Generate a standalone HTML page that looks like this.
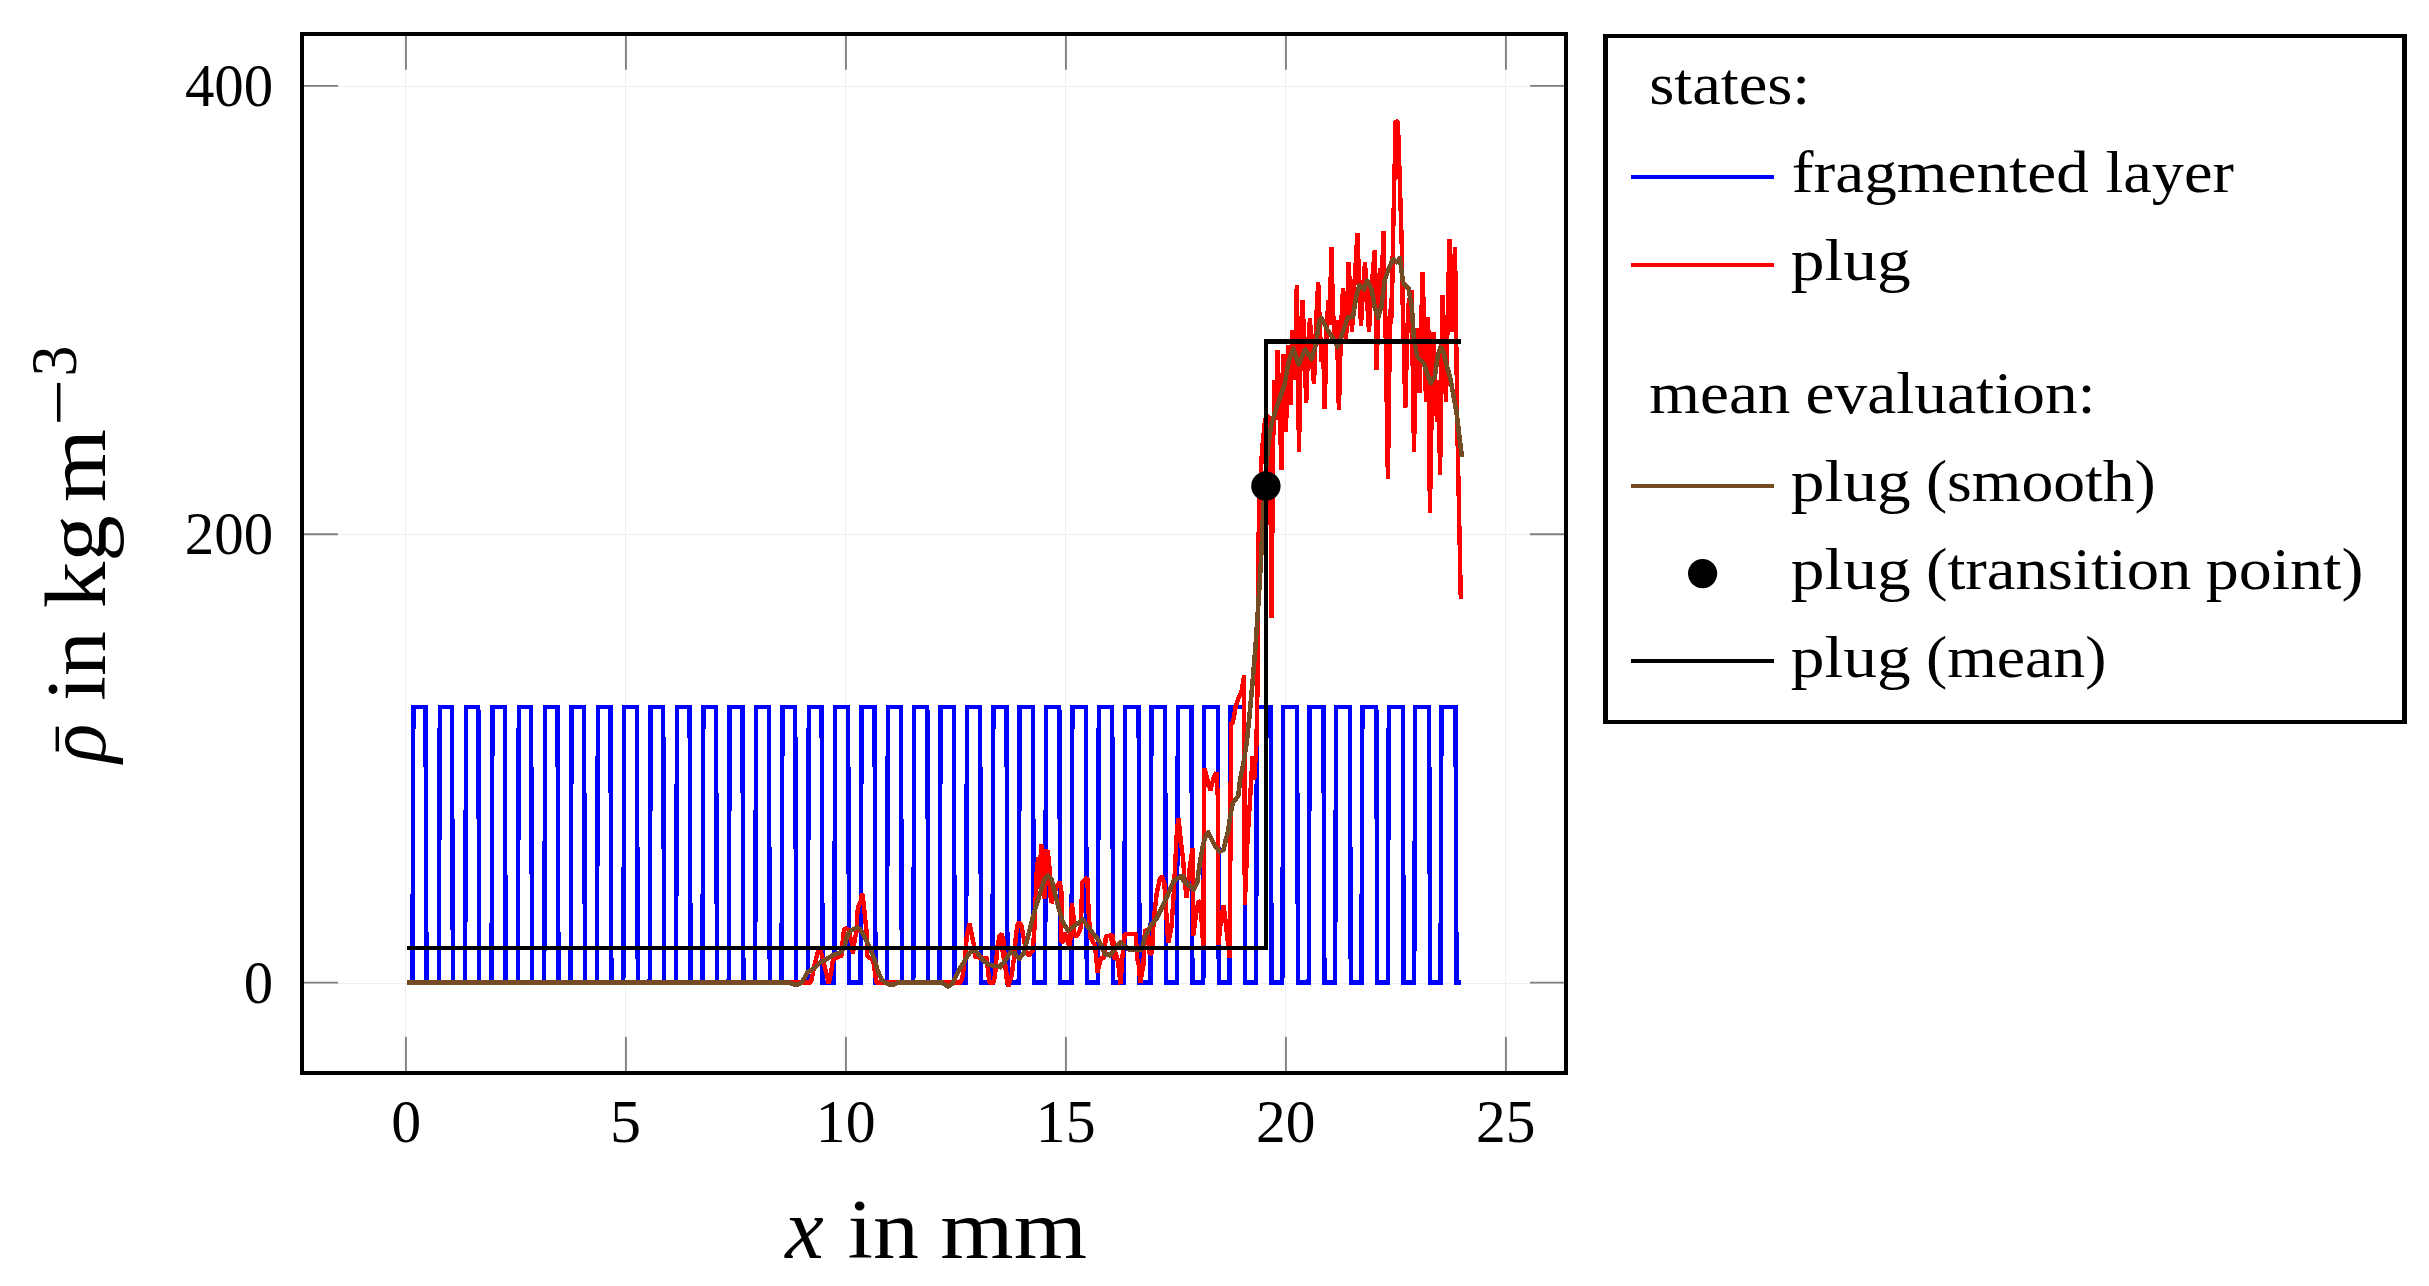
<!DOCTYPE html>
<html lang="en"><head><meta charset="utf-8"><title>plug density</title>
<style>html,body{margin:0;padding:0;background:#fff}svg{display:block}</style></head>
<body>
<svg width="2429" height="1286" viewBox="0 0 2429 1286" font-family="'Liberation Serif', serif">
<rect x="0" y="0" width="2429" height="1286" fill="#fff"/>
<g stroke="#eeeeee" stroke-width="1.1" shape-rendering="crispEdges">
<line x1="405.5" y1="36" x2="405.5" y2="1071"/>
<line x1="625.5" y1="36" x2="625.5" y2="1071"/>
<line x1="845.5" y1="36" x2="845.5" y2="1071"/>
<line x1="1065.5" y1="36" x2="1065.5" y2="1071"/>
<line x1="1285.5" y1="36" x2="1285.5" y2="1071"/>
<line x1="1505.5" y1="36" x2="1505.5" y2="1071"/>
<line x1="304" y1="983.1" x2="1564" y2="983.1"/>
<line x1="304" y1="534.7" x2="1564" y2="534.7"/>
<line x1="304" y1="86.4" x2="1564" y2="86.4"/>
</g>
<g stroke="#7f7f7f" stroke-width="1.9">
<line x1="405.9" y1="1071" x2="405.9" y2="1036.8"/>
<line x1="405.9" y1="36" x2="405.9" y2="69.8"/>
<line x1="625.9" y1="1071" x2="625.9" y2="1036.8"/>
<line x1="625.9" y1="36" x2="625.9" y2="69.8"/>
<line x1="845.9" y1="1071" x2="845.9" y2="1036.8"/>
<line x1="845.9" y1="36" x2="845.9" y2="69.8"/>
<line x1="1065.9" y1="1071" x2="1065.9" y2="1036.8"/>
<line x1="1065.9" y1="36" x2="1065.9" y2="69.8"/>
<line x1="1285.9" y1="1071" x2="1285.9" y2="1036.8"/>
<line x1="1285.9" y1="36" x2="1285.9" y2="69.8"/>
<line x1="1505.9" y1="1071" x2="1505.9" y2="1036.8"/>
<line x1="1505.9" y1="36" x2="1505.9" y2="69.8"/>
<line x1="304" y1="982.6" x2="338" y2="982.6"/>
<line x1="1564" y1="982.6" x2="1530" y2="982.6"/>
<line x1="304" y1="534.2" x2="338" y2="534.2"/>
<line x1="1564" y1="534.2" x2="1530" y2="534.2"/>
<line x1="304" y1="85.9" x2="338" y2="85.9"/>
<line x1="1564" y1="85.9" x2="1530" y2="85.9"/>
</g>
<g fill="none" stroke-linejoin="miter" stroke-miterlimit="10" stroke-linecap="butt" shape-rendering="crispEdges">
<polyline stroke="#0000ff" stroke-width="4.4" points="407.0,982.6 412.4,982.6 413.4,706.9 425.5,706.9 426.5,982.6 438.8,982.6 439.8,706.9 451.9,706.9 452.9,982.6 465.1,982.6 466.1,706.9 478.3,706.9 479.3,982.6 491.5,982.6 492.5,706.9 504.7,706.9 505.7,982.6 517.8,982.6 518.8,706.9 531.1,706.9 532.1,982.6 544.2,982.6 545.2,706.9 557.5,706.9 558.5,982.6 570.6,982.6 571.6,706.9 584.0,706.9 585.0,982.6 596.9,982.6 597.9,706.9 610.4,706.9 611.4,982.6 623.3,982.6 624.3,706.9 636.8,706.9 637.8,982.6 649.7,982.6 650.7,706.9 663.2,706.9 664.2,982.6 676.0,982.6 677.0,706.9 689.6,706.9 690.6,982.6 702.4,982.6 703.4,706.9 716.0,706.9 717.0,982.6 728.7,982.6 729.7,706.9 742.4,706.9 743.4,982.6 755.1,982.6 756.1,706.9 768.8,706.9 769.8,982.6 781.5,982.6 782.5,706.9 795.2,706.9 796.2,982.6 807.8,982.6 808.8,706.9 821.6,706.9 822.6,982.6 834.2,982.6 835.2,706.9 848.1,706.9 849.1,982.6 860.6,982.6 861.6,706.9 874.5,706.9 875.5,982.6 886.9,982.6 887.9,706.9 900.9,706.9 901.9,982.6 913.3,982.6 914.3,706.9 927.3,706.9 928.3,982.6 939.6,982.6 940.6,706.9 953.7,706.9 954.7,982.6 966.0,982.6 967.0,706.9 980.1,706.9 981.1,982.6 992.4,982.6 993.4,706.9 1006.5,706.9 1007.5,982.6 1018.7,982.6 1019.7,706.9 1032.9,706.9 1033.9,982.6 1045.1,982.6 1046.1,706.9 1059.3,706.9 1060.3,982.6 1071.4,982.6 1072.4,706.9 1085.8,706.9 1086.8,982.6 1097.8,982.6 1098.8,706.9 1112.2,706.9 1113.2,982.6 1124.2,982.6 1125.2,706.9 1138.6,706.9 1139.6,982.6 1150.5,982.6 1151.5,706.9 1165.0,706.9 1166.0,982.6 1176.9,982.6 1177.9,706.9 1191.4,706.9 1192.4,982.6 1203.3,982.6 1204.3,706.9 1217.8,706.9 1218.8,982.6 1229.6,982.6 1230.6,706.9 1244.2,706.9 1245.2,982.6 1256.0,982.6 1257.0,706.9 1270.6,706.9 1271.6,982.6 1282.3,982.6 1283.3,706.9 1297.0,706.9 1298.0,982.6 1308.7,982.6 1309.7,706.9 1323.4,706.9 1324.4,982.6 1335.1,982.6 1336.1,706.9 1349.8,706.9 1350.8,982.6 1361.4,982.6 1362.4,706.9 1376.3,706.9 1377.3,982.6 1387.8,982.6 1388.8,706.9 1402.7,706.9 1403.7,982.6 1414.2,982.6 1415.2,706.9 1429.1,706.9 1430.1,982.6 1440.5,982.6 1441.5,706.9 1455.5,706.9 1456.5,982.6 1461.0,982.6"/>
<polyline stroke="#ff0000" stroke-width="4.4" stroke-linejoin="bevel" points="407.0,982.6 789.0,982.6 810.9,982.6 814.4,965.5 817.6,953.0 819.8,948.1 822.0,955.7 825.6,970.0 828.7,983.4 831.0,972.7 832.8,961.0 835.5,957.9 841.7,955.7 842.6,942.2 844.0,929.7 846.2,928.4 848.4,929.3 849.8,936.0 851.6,942.2 852.9,953.9 854.7,939.6 856.5,931.5 857.4,911.8 858.7,905.6 860.5,902.9 862.1,893.1 863.6,902.9 865.4,920.8 867.2,936.9 867.2,955.7 869.4,957.5 873.0,959.7 875.3,974.4 876.2,982.6 960.7,982.6 962.9,974.4 965.1,956.6 966.9,935.1 969.6,923.0 971.8,935.1 974.1,945.8 975.0,956.6 979.4,957.5 986.6,957.9 987.5,965.5 988.4,974.4 989.3,982.6 993.8,982.6 995.5,970.9 997.3,947.6 999.6,936.0 1001.4,933.7 1003.6,940.5 1004.9,961.0 1006.7,978.9 1008.5,987.0 1000.0,935.1 1003.2,941.5 1005.1,963.4 1008.3,985.8 1011.6,976.2 1014.1,957.0 1016.0,935.1 1018.0,922.3 1021.2,924.9 1023.7,937.7 1025.7,950.5 1028.9,955.7 1032.7,950.5 1034.7,924.9 1036.6,873.5 1038.3,856.8 1039.5,888.9 1041.1,844.0 1043.0,854.3 1044.3,899.2 1045.6,849.1 1046.9,886.3 1047.8,850.4 1049.4,867.1 1050.3,895.3 1051.6,903.0 1053.9,896.6 1056.5,886.3 1059.7,881.9 1061.6,892.8 1061.0,941.5 1063.5,941.5 1064.8,932.6 1070.0,948.0 1071.9,903.0 1073.8,919.7 1074.5,936.4 1077.7,935.1 1080.9,927.4 1082.2,882.5 1087.3,877.4 1088.6,912.0 1090.5,937.7 1095.0,945.4 1097.6,972.4 1100.8,958.2 1104.0,958.2 1105.9,936.4 1113.0,935.1 1114.2,957.0 1118.1,960.8 1110.0,935.3 1112.3,940.0 1113.9,957.1 1117.8,960.2 1120.6,984.3 1122.4,957.1 1124.8,933.7 1135.7,933.7 1137.2,958.6 1138.8,964.9 1140.3,982.7 1143.4,964.9 1145.0,929.1 1148.1,933.7 1149.7,954.0 1152.0,953.2 1153.5,922.9 1156.7,893.3 1159.8,879.3 1162.1,876.2 1164.4,884.0 1166.0,908.9 1168.3,943.1 1171.4,927.5 1173.8,893.3 1175.3,862.2 1176.9,831.1 1178.4,817.9 1180.8,840.4 1183.1,859.1 1184.5,880.0 1186.6,897.4 1189.5,870.0 1192.6,848.5 1193.2,935.8 1196.0,915.0 1198.5,901.4 1200.5,902.0 1203.3,947.0 1204.2,800.0 1204.5,768.4 1207.5,780.0 1210.4,790.2 1213.5,778.0 1216.4,772.4 1218.0,800.0 1218.3,945.0 1221.0,920.0 1223.6,905.4 1226.0,925.0 1229.6,958.2 1230.4,850.0 1231.0,724.0 1233.0,722.0 1236.0,705.0 1239.0,697.0 1241.5,692.0 1244.1,675.2 1244.8,904.7 1247.5,840.0 1250.0,800.0 1252.6,756.0 1254.2,780.0 1256.4,745.0 1257.3,700.0 1257.6,640.0 1258.0,560.0 1259.5,500.0 1262.0,450.0 1265.0,420.0 1268.2,415.0 1270.0,440.0 1271.5,618.3 1273.2,440.0 1274.6,380.0 1276.0,420.0 1277.6,350.4 1279.5,410.0 1281.6,470.2 1283.4,353.7 1286.0,432.0 1288.0,345.0 1290.5,405.0 1292.5,330.0 1294.5,380.0 1296.8,285.1 1299.0,451.7 1301.0,330.0 1302.6,300.0 1304.5,350.0 1306.2,402.7 1308.2,345.0 1310.0,318.0 1312.0,360.0 1314.0,384.0 1316.2,320.0 1318.2,281.8 1320.0,330.0 1321.5,362.0 1323.0,340.0 1324.7,409.2 1326.6,330.0 1328.4,300.0 1329.8,325.0 1331.3,247.0 1333.2,315.0 1335.0,338.0 1336.8,320.0 1338.9,410.3 1341.0,330.0 1343.0,288.0 1344.6,320.0 1346.0,342.0 1347.4,300.0 1348.7,262.2 1350.4,300.0 1352.0,332.0 1354.0,290.0 1355.8,262.0 1357.4,232.8 1359.2,285.0 1361.0,326.0 1363.0,290.0 1365.0,262.0 1367.0,300.0 1369.0,332.0 1371.0,296.0 1373.0,270.0 1374.8,250.3 1376.7,370.2 1378.4,300.0 1380.0,268.0 1381.6,290.0 1383.5,230.7 1385.6,330.0 1387.9,478.9 1389.6,350.0 1391.0,298.0 1391.8,318.0 1392.8,250.0 1394.0,194.0 1395.7,121.0 1397.9,122.0 1400.2,194.0 1401.9,250.0 1402.6,300.0 1403.4,330.0 1405.3,408.1 1407.4,330.0 1409.0,298.0 1410.4,320.0 1411.6,290.5 1414.0,451.7 1415.6,360.0 1417.0,328.0 1418.2,350.0 1419.5,392.9 1421.0,330.0 1422.7,272.0 1424.4,340.0 1426.0,402.0 1427.2,350.0 1428.2,316.7 1429.9,512.6 1432.0,390.0 1433.6,331.9 1435.4,390.0 1437.0,422.0 1438.4,380.0 1440.1,474.5 1441.4,370.0 1442.3,294.9 1444.2,350.0 1446.0,402.0 1447.8,310.0 1449.5,239.4 1450.8,290.0 1452.0,332.0 1453.6,280.0 1455.0,247.0 1456.3,345.0 1457.6,440.0 1459.2,520.0 1460.8,598.7"/>
<polyline stroke="#744b23" stroke-width="4.6" stroke-linejoin="round" points="407.0,982.6 789.0,982.6 788.9,982.6 793.4,984.3 797.9,984.7 801.5,982.5 805.0,977.1 807.7,972.2 811.3,970.0 815.8,966.8 820.3,962.4 824.7,960.1 829.2,957.5 833.7,954.8 838.1,953.4 841.7,951.6 844.4,946.7 846.2,939.6 848.0,934.2 850.7,930.6 854.2,928.8 856.9,927.5 859.6,928.8 862.3,932.4 865.0,937.8 868.6,944.9 872.1,953.0 874.8,960.1 876.6,967.3 879.3,974.4 882.0,979.8 885.5,982.9 890.0,984.7 894.5,984.3 898.1,982.6 941.9,982.6 944.6,984.3 948.1,986.5 951.7,984.3 955.3,977.1 958.9,970.0 962.5,964.6 966.0,958.3 969.6,953.0 972.3,950.7 975.9,951.2 979.4,955.7 983.9,961.0 988.4,964.6 993.8,965.9 999.1,965.9 1002.7,963.7 1000.0,967.2 1005.1,960.8 1010.3,952.5 1014.1,953.1 1019.3,958.9 1023.7,953.1 1027.0,940.3 1030.8,924.9 1034.7,910.7 1039.8,894.1 1044.3,879.9 1048.1,875.4 1051.3,878.6 1055.2,894.1 1059.1,909.5 1062.9,922.3 1068.0,930.6 1073.2,926.8 1078.3,922.9 1082.8,919.1 1087.3,926.1 1092.4,932.6 1097.6,939.0 1101.4,945.4 1105.3,955.0 1109.1,954.4 1110.0,955.5 1114.7,949.3 1120.1,942.3 1125.6,947.0 1130.2,950.1 1136.4,949.3 1141.9,949.3 1145.0,936.9 1150.4,926.0 1156.7,918.2 1162.9,905.8 1169.1,891.8 1173.8,880.9 1178.4,877.8 1183.1,876.2 1186.2,882.4 1190.9,887.1 1180.0,876.3 1186.6,884.2 1193.9,889.5 1197.2,882.9 1199.8,863.1 1203.1,844.5 1206.4,834.0 1208.4,832.6 1211.7,839.3 1215.7,847.2 1219.7,851.8 1223.6,849.8 1225.6,840.6 1228.3,830.0 1230.2,816.0 1232.9,802.8 1238.2,796.2 1240.2,779.0 1243.5,763.1 1246.8,742.0 1249.6,715.0 1252.6,682.0 1255.6,645.0 1258.4,603.0 1260.9,562.0 1262.7,522.4 1265.0,480.0 1268.1,446.2 1271.4,424.4 1276.8,407.0 1284.4,385.0 1288.8,361.3 1293.2,348.3 1298.6,364.6 1305.1,349.3 1311.7,359.1 1316.0,343.9 1319.3,320.0 1321.5,317.8 1326.9,328.7 1332.4,337.4 1337.8,347.2 1343.2,330.8 1347.6,317.8 1353.0,316.7 1356.3,296.0 1359.6,285.1 1363.9,289.5 1367.2,280.7 1371.6,289.5 1374.8,306.9 1378.1,317.8 1381.4,306.9 1384.6,280.7 1389.0,267.7 1393.3,259.0 1396.6,262.2 1399.9,257.9 1403.1,282.9 1408.6,288.4 1411.8,306.9 1414.0,339.5 1417.3,357.0 1423.8,363.5 1428.2,376.6 1430.8,383.3 1435.0,375.8 1437.8,355.3 1440.6,346.9 1443.4,351.6 1447.1,366.5 1450.9,381.0 1453.7,397.3 1456.5,412.0 1461.9,457.1"/>
<polyline stroke="#000" stroke-width="4.4" points="407,948.0 1266.1,948.0 1266.1,341.5 1461,341.5"/>
</g>
<circle cx="1265.9" cy="486.1" r="14.7" fill="#000"/>
<rect x="302" y="34" width="1264" height="1039" fill="none" stroke="#000" stroke-width="4" shape-rendering="crispEdges"/>
<text transform="translate(391.13,1142.40) scale(0.9981,1.0200)" font-size="60" fill="#000">0</text>
<text transform="translate(610.09,1142.40) scale(1.0351,1.0200)" font-size="60" fill="#000">5</text>
<text transform="translate(815.83,1142.40) scale(0.9956,1.0200)" font-size="60" fill="#000">10</text>
<text transform="translate(1035.83,1142.40) scale(0.9956,1.0200)" font-size="60" fill="#000">15</text>
<text transform="translate(1255.94,1142.40) scale(0.9902,1.0200)" font-size="60" fill="#000">20</text>
<text transform="translate(1475.94,1142.40) scale(0.9902,1.0200)" font-size="60" fill="#000">25</text>
<text transform="translate(243.76,1002.80) scale(0.9790,1.0200)" font-size="60" fill="#000">0</text>
<text transform="translate(184.76,554.44) scale(0.9820,1.0200)" font-size="60" fill="#000">200</text>
<text transform="translate(184.88,106.08) scale(0.9806,1.0200)" font-size="60" fill="#000">400</text>
<text transform="translate(785.16,1257.60) scale(1.0325,1.0200)" font-size="84" font-style="italic" fill="#000">x</text>
<text transform="translate(847.47,1257.60) scale(1.0933,1.0000)" font-size="84" fill="#000">in</text>
<text transform="translate(940.33,1257.60) scale(1.1228,1.0000)" font-size="84" fill="#000">mm</text>
<text transform="translate(104.60,762.76) rotate(-90) scale(0.9659,1.0000)" font-size="84" font-style="italic" fill="#000">ρ</text>
<text transform="translate(111.95,750.95) rotate(-90) scale(0.7969,1.2267)" font-size="60" fill="#000">¯</text>
<text transform="translate(104.60,700.90) rotate(-90) scale(1.0668,1.0000)" font-size="84" fill="#000">in</text>
<text transform="translate(104.60,608.25) rotate(-90) scale(1.1060,1.0300)" font-size="84" fill="#000">kg</text>
<text transform="translate(104.60,502.37) rotate(-90) scale(1.1222,1.0000)" font-size="84" fill="#000">m</text>
<text transform="translate(81.60,425.72) rotate(-90) scale(1.3067,1.1000)" font-size="64" fill="#000">−</text>
<text transform="translate(75.60,376.41) rotate(-90) scale(0.9704,1.0300)" font-size="64" fill="#000">3</text>
<rect x="1603" y="34" width="804" height="690" fill="#000"/>
<rect x="1608" y="38" width="794" height="682" fill="#fff"/>
<text transform="translate(1649.19,104.20) scale(1.0919,1.0000)" font-size="59" fill="#000">states:</text>
<text transform="translate(1791.78,192.00) scale(1.1060,1.0000)" font-size="59" fill="#000">fragmented</text>
<text transform="translate(2105.50,192.00) scale(1.0891,1.0000)" font-size="59" fill="#000">layer</text>
<text transform="translate(1790.85,279.70) scale(1.1441,1.0000)" font-size="59" fill="#000">plug</text>
<text transform="translate(1649.18,412.50) scale(1.1061,1.0000)" font-size="59" fill="#000">mean</text>
<text transform="translate(1805.56,412.50) scale(1.1072,1.0000)" font-size="59" fill="#000">evaluation:</text>
<text transform="translate(1790.85,501.30) scale(1.1441,1.0000)" font-size="59" fill="#000">plug</text>
<text transform="translate(1925.91,501.30) scale(1.0791,1.0000)" font-size="59" fill="#000">(smooth)</text>
<text transform="translate(1790.85,588.80) scale(1.1441,1.0000)" font-size="59" fill="#000">plug</text>
<text transform="translate(1925.88,588.80) scale(1.0949,1.0000)" font-size="59" fill="#000">(transition</text>
<text transform="translate(2205.77,588.80) scale(1.1184,1.0000)" font-size="59" fill="#000">point)</text>
<text transform="translate(1790.85,676.60) scale(1.1441,1.0000)" font-size="59" fill="#000">plug</text>
<text transform="translate(1925.91,676.60) scale(1.0804,1.0000)" font-size="59" fill="#000">(mean)</text>
<rect x="1631" y="175" width="143" height="4" fill="#0000ff" shape-rendering="crispEdges"/>
<rect x="1631" y="263" width="143" height="4" fill="#ff0000" shape-rendering="crispEdges"/>
<rect x="1631" y="484" width="143" height="4" fill="#744b23" shape-rendering="crispEdges"/>
<rect x="1631" y="659" width="143" height="4" fill="#000" shape-rendering="crispEdges"/>
<circle cx="1702.6" cy="573.6" r="14.6" fill="#000"/>
</svg>
</body></html>
